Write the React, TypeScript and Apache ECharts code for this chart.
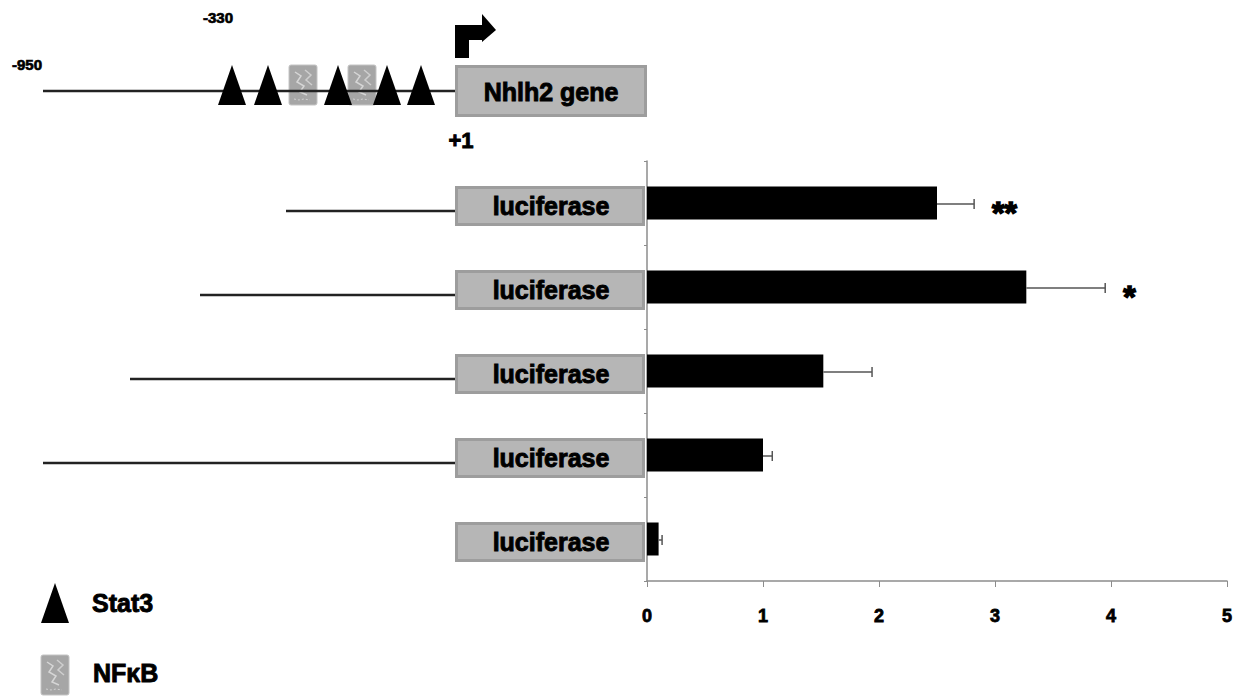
import React, { useEffect, useRef } from "react";
import * as echarts from "echarts";

// Reporter constructs, top to bottom (promoter deletion series + promoterless vector)
const constructs = ["-390/+1", "-590/+1", "-750/+1", "-950/+1", "basic"];
// Relative luciferase activity (mean) and its error (SEM)
const activity = [2.5, 3.27, 1.52, 1.0, 0.1];
const activityErr = [0.32, 0.68, 0.42, 0.08, 0.03];
// Significance marks shown after the error bars
const significance = ["**", "*", "", "", ""];
// Value axis ticks
const axisMin = 0;
const axisMax = 5;
const axisStep = 1;

// Diagram text
const geneLabel = "Nhlh2 gene";
const reporterLabel = "luciferase";
const upstreamLabel = "-950";
const midLabel = "-330";
const tssLabel = "+1";
const stat3Label = "Stat3";
const nfkbLabel = "NFκB";

// ---- layout (pixels) ----
const FONT = "'Liberation Sans', Arial, sans-serif";
const GRID = { left: 647, top: 161, width: 580, height: 420 };
const TSS_X = 455;
const PROMOTER_LEFT = 43;
const PROMOTER_Y = 91;
// left end of each construct's promoter line (null = no promoter)
const promoterStartX = [286, 200, 130, 43, null];
const stat3X = [232, 268, 338, 387, 421];
const nfkbX = [289, 348];
const SITE_TOP = 65;
const SITE_BOTTOM = 105;

const BOX_FILL = "#b6b6b6";
const BOX_STROKE = "#9d9d9d";

// heavy black lettering used throughout the figure
function heavyText(x: number, y: number, text: string, size: number, align = "center", border = 0.9) {
  return {
    x,
    y,
    text,
    fill: "#000",
    font: `bold ${size}px ${FONT}`,
    align,
    verticalAlign: "middle",
    stroke: "#000",
    lineWidth: border,
  };
}

function nfkbBox(bx: number, by: number, z: number) {
  return {
    type: "group",
    z,
    children: [
      {
        type: "rect",
        shape: { x: bx, y: by, width: 28, height: 40, r: 2 },
        style: { fill: "#a6a6a6", stroke: "#c4c4c4", lineWidth: 1 },
      },
      {
        type: "polyline",
        shape: {
          points: [
            [bx + 6, by + 7],
            [bx + 12, by + 11],
            [bx + 8, by + 17],
            [bx + 15, by + 21],
            [bx + 11, by + 27],
            [bx + 18, by + 30],
          ],
        },
        style: { stroke: "#d6d6d6", lineWidth: 1.5, fill: "none" },
      },
      {
        type: "polyline",
        shape: {
          points: [
            [bx + 16, by + 5],
            [bx + 22, by + 10],
            [bx + 17, by + 15],
            [bx + 23, by + 20],
          ],
        },
        style: { stroke: "#cfcfcf", lineWidth: 1.5, fill: "none" },
      },
      {
        type: "polyline",
        shape: {
          points: [
            [bx + 5, by + 34],
            [bx + 10, by + 35],
            [bx + 15, by + 34],
            [bx + 21, by + 35],
          ],
        },
        style: { stroke: "#d2d2d2", lineWidth: 1, fill: "none", lineDash: [2, 2] },
      },
    ],
  };
}

function stat3Tri(cx: number, top: number, bottom: number, z: number) {
  return {
    type: "polygon",
    z,
    shape: {
      points: [
        [cx - 14, bottom],
        [cx, top],
        [cx + 14, bottom],
      ],
    },
    style: { fill: "#000" },
  };
}

function buildDiagram(centers: number[]) {
  const els: any[] = [];

  // full-length promoter above the plot
  els.push({
    type: "line",
    z: 1,
    shape: { x1: PROMOTER_LEFT, y1: PROMOTER_Y, x2: TSS_X, y2: PROMOTER_Y },
    style: { stroke: "#222", lineWidth: 2.5 },
  });
  // binding sites in drawing order
  els.push(stat3Tri(stat3X[0], SITE_TOP, SITE_BOTTOM, 3));
  els.push(stat3Tri(stat3X[1], SITE_TOP, SITE_BOTTOM, 3));
  els.push(nfkbBox(nfkbX[0], SITE_TOP, 3));
  els.push(stat3Tri(stat3X[2], SITE_TOP, SITE_BOTTOM, 3));
  els.push(nfkbBox(nfkbX[1], SITE_TOP, 4));
  els.push(stat3Tri(stat3X[3], SITE_TOP, SITE_BOTTOM, 5));
  els.push(stat3Tri(stat3X[4], SITE_TOP, SITE_BOTTOM, 5));

  // transcription start arrow
  els.push({
    type: "polygon",
    z: 3,
    shape: {
      points: [
        [455, 58],
        [455, 25],
        [482, 25],
        [482, 14],
        [496, 30],
        [482, 42],
        [482, 40],
        [469, 40],
        [469, 58],
      ],
    },
    style: { fill: "#000" },
  });

  // gene box
  els.push({
    type: "rect",
    z: 3,
    shape: { x: 456.5, y: 66.5, width: 189, height: 49 },
    style: { fill: BOX_FILL, stroke: BOX_STROKE, lineWidth: 3 },
  });
  els.push({ type: "text", z: 4, style: heavyText(551, 92, geneLabel, 25) });

  // coordinate labels
  els.push({ type: "text", style: heavyText(27, 64, upstreamLabel, 15, "center", 0.7) });
  els.push({ type: "text", style: heavyText(218, 17, midLabel, 15, "center", 0.7) });
  els.push({ type: "text", style: heavyText(461, 140, tssLabel, 22) });

  // reporter constructs aligned with the chart rows
  centers.forEach((c, i) => {
    const start = promoterStartX[i];
    if (start !== null) {
      els.push({
        type: "line",
        z: 1,
        shape: { x1: start, y1: c + 8, x2: TSS_X, y2: c + 8 },
        style: { stroke: "#222", lineWidth: 2.5 },
      });
    }
    els.push({
      type: "rect",
      z: 3,
      shape: { x: 456.5, y: c - 15.5, width: 187, height: 37 },
      style: { fill: BOX_FILL, stroke: BOX_STROKE, lineWidth: 3 },
    });
    els.push({ type: "text", z: 4, style: heavyText(551, c + 3, reporterLabel, 25) });
  });

  // legend
  els.push(stat3Tri(55, 583, 623, 3));
  els.push({ type: "text", style: heavyText(92, 603, stat3Label, 25, "left") });
  els.push(nfkbBox(41, 655, 3));
  els.push({ type: "text", style: heavyText(93, 673, nfkbLabel, 25, "left") });

  return els;
}

export default function App() {
  const ref = useRef<HTMLDivElement>(null);

  useEffect(() => {
    if (!ref.current) return;
    const chart = echarts.init(ref.current, null, { renderer: "svg" });

    const errData = activity.map((v, i) => [v, i, activityErr[i]]);

    chart.setOption({
      animation: false,
      backgroundColor: "#fff",
      grid: { ...GRID, containLabel: false },
      xAxis: {
        type: "value",
        min: axisMin,
        max: axisMax,
        interval: axisStep,
        axisLine: { show: true, lineStyle: { color: "#8c8c8c", width: 1.5 } },
        axisTick: { show: true, length: 6, lineStyle: { color: "#8c8c8c" } },
        splitLine: { show: false },
        axisLabel: {
          color: "#000",
          fontFamily: FONT,
          fontWeight: "bold",
          fontSize: 18,
          margin: 26,
          textBorderColor: "#000",
          textBorderWidth: 0.8,
        },
      },
      yAxis: {
        type: "category",
        data: constructs,
        inverse: true,
        axisLine: { show: true, lineStyle: { color: "#8c8c8c", width: 1.5 } },
        axisTick: { show: true, length: 3, lineStyle: { color: "#8c8c8c" } },
        axisLabel: { show: false },
      },
      series: [
        {
          type: "bar",
          data: activity,
          barWidth: 33,
          itemStyle: { color: "#000" },
          z: 2,
        },
        {
          type: "custom",
          data: errData,
          encode: { x: 0, y: 1 },
          z: 3,
          renderItem: (params: any, api: any) => {
            const v = api.value(0);
            const idx = api.value(1);
            const e = api.value(2);
            const sig = significance[params.dataIndex];
            const p0 = api.coord([v, idx]);
            const p1 = api.coord([v + e, idx]);
            const y = p0[1] + 1;
            const children: any[] = [
              {
                type: "line",
                shape: { x1: p0[0], y1: y, x2: p1[0], y2: y },
                style: { stroke: "#555", lineWidth: 1.5 },
              },
              {
                type: "line",
                shape: { x1: p1[0], y1: y - 5, x2: p1[0], y2: y + 5 },
                style: { stroke: "#555", lineWidth: 1.5 },
              },
            ];
            if (sig) {
              children.push({
                type: "text",
                style: {
                  x: p1[0] + 18,
                  y: y + 9,
                  text: sig,
                  fill: "#000",
                  font: `bold 32px ${FONT}`,
                  align: "left",
                  verticalAlign: "middle",
                  stroke: "#000",
                  lineWidth: 1.5,
                },
              });
            }
            return { type: "group", children };
          },
        },
      ],
    });

    const centers = constructs.map((_, i) => chart.convertToPixel({ yAxisIndex: 0 }, i) as number);
    chart.setOption({ graphic: buildDiagram(centers) });

    return () => chart.dispose();
  }, []);

  return (
    <div
      ref={ref}
      style={{ position: "fixed", left: 0, top: 0, width: 1248, height: 700, background: "#fff" }}
    />
  );
}
